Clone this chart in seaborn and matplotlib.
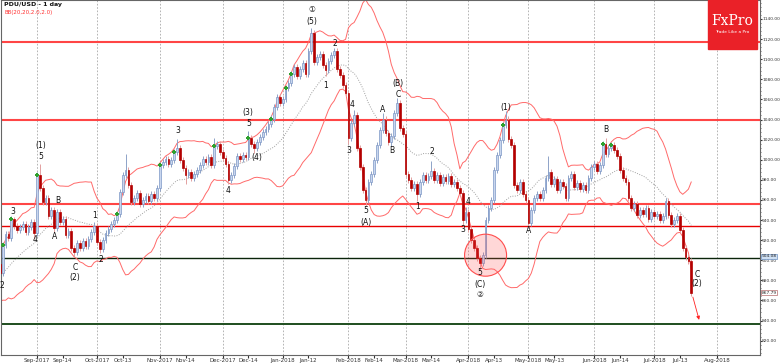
import numpy as np
import pandas as pd
import matplotlib
matplotlib.use('Agg')
import matplotlib.pyplot as plt
from matplotlib.patches import Ellipse, Rectangle
from matplotlib.ticker import MultipleLocator, FormatStrFormatter
import seaborn as sns

sns.set_style('white')
plt.rcParams['font.family'] = ['DejaVu Sans', 'Noto Sans CJK SC']

# daily closes (business days)
# pre-window: 18 Jul - 14 Aug 2017, only used to feed the bands
pre_close = [858, 862, 866, 864, 870, 874, 872, 878, 884, 880,
             888, 893, 890, 886, 895, 901, 898, 905, 902, 896]
aug17 = [887, 915, 926, 922, 941, 934, 930, 933, 936, 928, 933, 938, 927]
sep17 = [985, 972, 958, 962, 944, 950, 932, 948, 938, 941, 925,
         929, 912, 908, 917, 912, 919, 914, 921, 928, 934]
oct17 = [918, 911, 920, 927, 931, 936, 940, 946, 968, 985, 990,
         975, 958, 962, 967, 956, 960, 964, 959, 966, 962, 972]
nov17 = [995, 998, 1001, 996, 1000, 1008, 1012, 1000, 992, 985, 988,
         982, 986, 990, 995, 1001, 998, 1003, 995, 1014, 1016, 1008]
dec17 = [1002, 996, 980, 985, 994, 1004, 1001, 1005, 1003, 1022, 1016,
         1012, 1018, 1023, 1028, 1031, 1036, 1041, 1052, 1062, 1056]
jan18 = [1060, 1071, 1076, 1085, 1092, 1083, 1090, 1096, 1085, 1108, 1126, 1097,
         1102, 1105, 1094, 1089, 1098, 1104, 1108, 1090, 1084, 1074, 1066]
feb18 = [1022, 1037, 1044, 1012, 993, 970, 960, 978, 986, 1000,
         1015, 1030, 1040, 1027, 1018, 1024, 1046, 1056, 1032, 1026]
mar18 = [986, 980, 972, 976, 966, 978, 985, 980, 984, 989, 980,
         985, 977, 983, 979, 984, 976, 978, 972, 967, 940, 948]
apr18 = [931, 920, 912, 902, 897, 905, 940, 952, 960, 990, 1005,
         1020, 1035, 1040, 1021, 1015, 975, 970, 978, 966, 960]
may18 = [937, 950, 962, 966, 962, 970, 982, 988, 976, 981, 970, 978,
         974, 962, 982, 986, 973, 977, 971, 975, 970, 982, 993]
jun18 = [996, 989, 995, 1016, 1006, 1012, 1015, 1010, 1004, 990, 982,
         978, 962, 952, 956, 945, 950, 946, 952, 941, 948]
jul18 = [944, 946, 940, 944, 959, 945, 936, 940, 944, 930, 912, 903, 899, 867.79]

# notable wick extremes (index from 15 Aug 2017)
wick_high = {5: 943, 14: 996, 33: 938, 44: 1006, 62: 1021, 75: 1022, 87: 1029,
             109: 1131, 117: 1111, 124: 1049, 134: 1046, 139: 1061, 151: 999,
             163: 953, 177: 1048, 192: 1004, 212: 1022, 233: 962}
wick_low = {0: 878, 12: 921, 19: 928, 26: 903, 35: 907, 65: 976, 80: 976,
            89: 1007, 114: 1083, 122: 1016, 128: 954, 137: 1014, 146: 959,
            162: 934, 168: 890, 185: 933}

levels_red = [1117, 1040, 956]
level_red_thin = 934
level_black = 902
level_green = 836.5
price_tags = [(904, '904.08', '#cfe0f3', '#6f93c4'), (867.79, '867.79', 'white', '#b36a6a')]
signal_days = [1, 4, 13, 41, 56, 61, 75, 87, 95, 100, 102, 176, 211, 214]

tick_dates = ['2017-09-01', '2017-09-14', '2017-10-02', '2017-10-13', '2017-11-01', '2017-11-14',
              '2017-12-01', '2017-12-14', '2018-01-01', '2018-01-12', '2018-02-01', '2018-02-14',
              '2018-03-01', '2018-03-14', '2018-04-02', '2018-04-13', '2018-05-01', '2018-05-13',
              '2018-06-01', '2018-06-14', '2018-07-02', '2018-07-13', '2018-08-01']
tick_labels = ['Sep-2017', 'Sep-14', 'Oct-2017', 'Oct-13', 'Nov-2017', 'Nov-14',
               'Dec-2017', 'Dec-14', 'Jan-2018', 'Jan-12', 'Feb-2018', 'Feb-14',
               'Mar-2018', 'Mar-14', 'Apr-2018', 'Apr-13', 'May-2018', 'May-13',
               'Jun-2018', 'Jun-14', 'Jul-2018', 'Jul-13', 'Aug-2018']

wave_labels = [
    ('2', 0.6, 875), ('3', 4.6, 948), ('4', 12.3, 921), ('5', 14.4, 1003), ('(1)', 14.4, 1014),
    ('B', 20.3, 959), ('A', 19.3, 924), ('C', 26.3, 893), ('(2)', 26.3, 883),
    ('1', 33.3, 944), ('2', 35.4, 901), ('3', 62.3, 1029), ('4', 79.8, 969),
    ('5', 87.2, 1036), ('(3)', 86.8, 1047), ('(4)', 89.8, 1002),
    ('①', 109.2, 1149), ('(5)', 109.2, 1138), ('2', 117.3, 1116), ('1', 114.1, 1074),
    ('4', 123.2, 1055), ('3', 122.2, 1009), ('5', 128.1, 949), ('(A)', 128.1, 938),
    ('A', 134.1, 1050), ('B', 137.2, 1009), ('(B)', 139.3, 1076), ('C', 139.3, 1065),
    ('1', 146.3, 953), ('2', 151.2, 1008), ('4', 163.8, 958), ('3', 162.1, 931),
    ('5', 168.0, 888), ('(C)', 168.0, 876), ('②', 168.0, 866), ('(1)', 177.1, 1052),
    ('A', 185.2, 930), ('B', 212.1, 1030), ('C', 244.0, 886), ('(2)', 244.0, 877),
]

# build frame
closes = pre_close + aug17 + sep17 + oct17 + nov17 + dec17 + jan18 + feb18 + mar18 + apr18 + may18 + jun18 + jul18
n_pre = len(pre_close)
dates = pd.bdate_range('2017-07-18', '2018-07-19')
df = pd.DataFrame({'date': dates, 'close': closes})
df['pos'] = np.arange(len(df)) - n_pre
df['open'] = df['close'].shift(1).fillna(df['close'].iloc[0])
df['high'] = df[['open', 'close']].max(axis=1) + 3
df['low'] = df[['open', 'close']].min(axis=1) - 3
for k, v in wick_high.items():
    df.loc[df.pos == k, 'high'] = v
for k, v in wick_low.items():
    df.loc[df.pos == k, 'low'] = v
df['mid'] = df['close'].rolling(20).mean()
sd = df['close'].rolling(20).std(ddof=0)
df['upper'] = df['mid'] + 2 * sd
df['lower'] = df['mid'] - 2 * sd
vis = df[df.pos >= 0]

axis_dates = pd.bdate_range('2017-07-18', '2018-08-31')

fig = plt.figure(figsize=(7.82, 3.64), dpi=100)
ax = fig.add_axes([1 / 782, 9 / 364, 759 / 782, 355 / 364])
ax.set_xlim(0.40, 266.05)
ax.set_ylim(805.7, 1158.9)

# month grid
tick_pos = [axis_dates.searchsorted(pd.Timestamp(d)) - n_pre for d in tick_dates]
month_pos = [p for p, l in zip(tick_pos, tick_labels) if '-20' in l]
ax.vlines(month_pos, 805.7, 1158.9, colors='#a8a8a8', linestyles=(0, (2, 2)), lw=0.6, zorder=1)

# levels
for lv in levels_red:
    ax.axhline(lv, color='#ff4545', lw=1.5, zorder=2)
ax.axhline(level_red_thin, color='#e80000', lw=1.0, zorder=2)
ax.axhline(level_black, color='#0a240a', lw=1.0, zorder=2)
ax.axhline(level_green, color='#1e4d1e', lw=1.4, zorder=2)

# bollinger bands
sns.lineplot(data=vis, x='pos', y='upper', ax=ax, color='#ff6a6a', lw=0.7, zorder=2)
sns.lineplot(data=vis, x='pos', y='lower', ax=ax, color='#ff6a6a', lw=0.7, zorder=2)
sns.lineplot(data=vis, x='pos', y='mid', ax=ax, color='#a0a0a0', lw=0.7,
             linestyle=(0, (1, 1.5)), zorder=2)

# candles
up = vis.close >= vis.open
dn = ~up
ax.vlines(vis.pos[up], vis.low[up], vis.high[up], colors='#8ea3c8', lw=0.7, zorder=3)
ax.vlines(vis.pos[dn], vis.low[dn], vis.high[dn], colors='#e3a0a0', lw=0.7, zorder=3)
body = (vis.close - vis.open).abs().clip(lower=0.8)
ax.bar(vis.pos[up], body[up], bottom=vis.open[up], width=0.62, color='#c9d6ee',
       edgecolor='#7d97c6', linewidth=0.5, zorder=4)
ax.bar(vis.pos[dn], body[dn], bottom=vis.close[dn], width=0.62, color='#b30000',
       edgecolor='#b30000', linewidth=0.5, zorder=4)

sig = vis[vis.pos.isin(signal_days)]
ax.scatter(sig.pos, sig.close, marker='P', s=7, color='#2ea12e', linewidths=0, zorder=6)

# circle and arrow
ax.add_patch(Ellipse((170, 905), 14.7, 41.8, facecolor=(1, 0.3, 0.3, 0.22),
                     edgecolor='#ff4d4d', lw=0.8, zorder=5))
ax.annotate('', xy=(245, 838), xytext=(242.3, 866),
            arrowprops=dict(arrowstyle='-|>', color='#ff2020', lw=0.6, mutation_scale=5), zorder=6)

for txt, x, y in wave_labels:
    ax.text(x, y, txt, fontsize=5.5, ha='center', va='center', color='#111111', zorder=7)

# axes
for s in ax.spines.values():
    s.set_color('#666666')
    s.set_linewidth(0.8)
ax.yaxis.tick_right()
ax.set_yticks(np.arange(820, 1141, 20))
ax.yaxis.set_major_formatter(FormatStrFormatter('%.2f'))
ax.yaxis.set_minor_locator(MultipleLocator(4))
ax.tick_params(axis='y', which='major', labelsize=3.2, length=1.2, pad=0.3, colors='#333333')
ax.tick_params(axis='y', which='minor', length=0.8, color='#555555', right=True)
ax.set_xticks(tick_pos)
ax.set_xticklabels(tick_labels)
ax.tick_params(axis='x', labelsize=4, length=2, pad=0.5, colors='#333333', bottom=True)
ax.set_xlabel('')
ax.set_ylabel('')

for v, txt, fc, ec in price_tags:
    ax.text(1.002, v, txt, transform=ax.get_yaxis_transform(), fontsize=3.2, va='center', ha='left',
            color='#222222', zorder=8, clip_on=False,
            bbox=dict(boxstyle='square,pad=0.15', fc=fc, ec=ec, lw=0.5))

ax.text(0.004, 0.986, 'PDU/USD - 1 day', transform=ax.transAxes, fontsize=4.5,
        fontweight='bold', va='center', ha='left', color='#111111')
ax.text(0.004, 0.965, 'BB(20,20,2.0,2.0)', transform=ax.transAxes, fontsize=4,
        va='center', ha='left', color='#ff3030')

# logo
fig.add_artist(Rectangle((708 / 782, 1 - 49 / 364), 49 / 782, 49 / 364,
                         transform=fig.transFigure, color='#ea2128', zorder=10))
fig.text(732.5 / 782, 1 - 21 / 364, 'FxPro', fontsize=10, color='white', ha='center',
         va='center', family='DejaVu Serif', zorder=11)
fig.text(732.5 / 782, 1 - 32 / 364, 'Trade Like a Pro', fontsize=3.2, color='white',
         ha='center', va='center', zorder=11)

fig.savefig('out.png', dpi=100)
